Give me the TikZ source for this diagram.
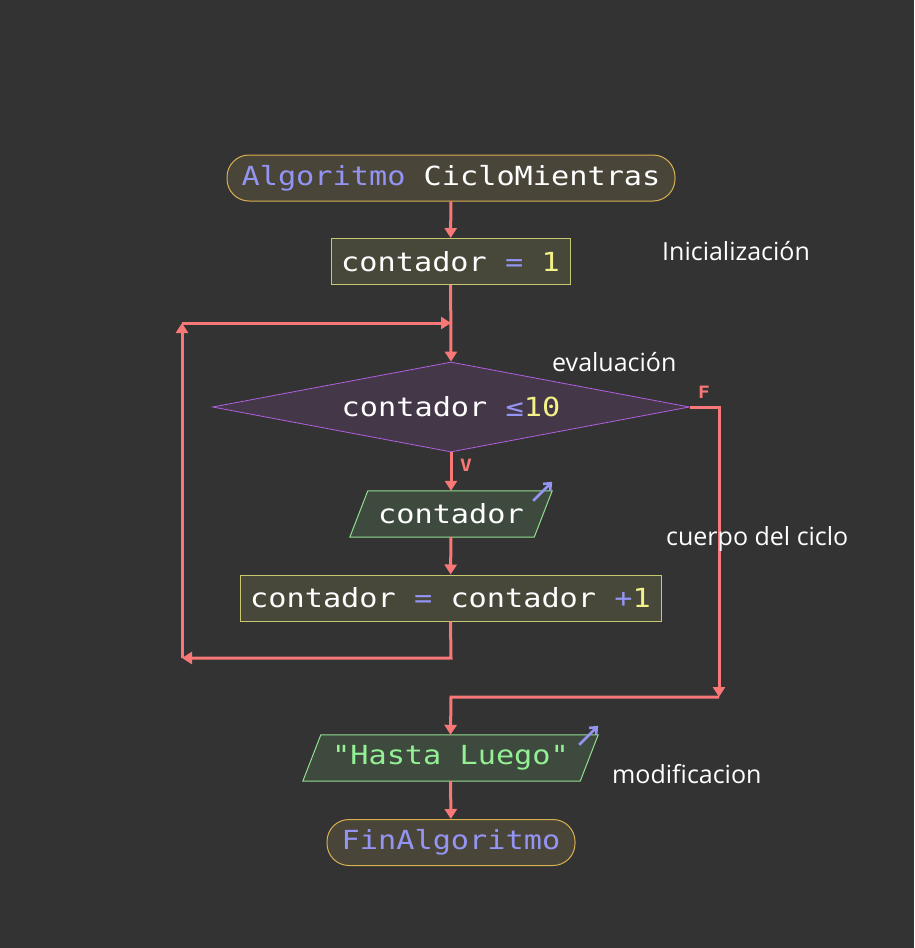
\documentclass[tikz,border=0pt]{standalone}
\usepackage{fontspec}
\setmainfont{Open Sans}
\newfontfamily\monof[FakeStretch=1.15]{DejaVu Sans Mono}
\usetikzlibrary{arrows.meta,shapes.geometric,calc}
\pgfdeclarelayer{canvas}
\pgfdeclarelayer{background}
\pgfsetlayers{canvas,background,main}
\definecolor{bg}{HTML}{333333}
\definecolor{arrowc}{HTML}{F87878}
\definecolor{kw}{HTML}{9494F4}
\definecolor{num}{HTML}{F2F288}
\definecolor{strc}{HTML}{94F094}
\definecolor{startfill}{HTML}{4A4539}
\definecolor{startdraw}{HTML}{D8B050}
\definecolor{boxfill}{HTML}{47473A}
\definecolor{boxdraw}{HTML}{C8C870}
\definecolor{diafill}{HTML}{443848}
\definecolor{diadraw}{HTML}{B060E0}
\definecolor{iofill}{HTML}{3E4A3E}
\definecolor{iodraw}{HTML}{90E090}
\begin{document}
\begin{tikzpicture}[x=1pt,y=-1pt,
  code/.style={font=\monof\fontsize{26.3}{30}\selectfont, text=white},
  term/.style={code, rectangle, rounded corners=22pt, fill=startfill, draw=startdraw, line width=1pt, inner sep=0pt, minimum height=46pt},
  procbox/.style={code, rectangle, fill=boxfill, draw=boxdraw, line width=1pt, inner sep=0pt, minimum height=46pt},
  decision/.style={code, diamond, aspect=5.3, fill=diafill, draw=diadraw, line width=0.8pt, inner sep=0pt, minimum width=477pt, minimum height=90pt},
  iobox/.style={code, rectangle, inner sep=0pt, minimum height=46pt},
  iopoly/.style={fill=iofill, draw=iodraw, line width=1pt},
  arr/.style={draw=arrowc, line width=3pt, -{Triangle[length=10pt,width=12pt]}},
  icon/.style={draw=kw, line width=2.5pt, -{Straight Barb[length=6pt,width=10pt]}},
  note/.style={font=\fontsize{25}{30}\selectfont, text=white, inner sep=0pt, anchor=west},
  flag/.style={font=\monof\bfseries\fontsize{17}{20}\selectfont, text=arrowc, inner sep=0pt}]
\begin{pgfonlayer}{canvas}
\fill[bg] (0,0) rectangle (914,948);
\end{pgfonlayer}
\useasboundingbox (0,0) rectangle (914,948);

\node[term, minimum width=448pt] (start) at (451,178) {\textcolor{kw}{Algoritmo} CicloMientras};
\node[procbox, minimum width=239pt] (b1) at (450.5,261.5) {contador \textcolor{kw}{=} \textcolor{num}{1}};
\coordinate (j1) at (451,323);
\node[decision] (d) at (451,407) {contador \textcolor{kw}{≤}\textcolor{num}{10}};
\node[iobox, minimum width=202pt] (p1) at (451,514) {contador};
\node[procbox, minimum width=421pt] (b2) at (450.5,598) {contador \textcolor{kw}{=} contador \textcolor{kw}{+}\textcolor{num}{1}};
\node[iobox, minimum width=295pt] (p2) at (450.5,758) {\textcolor{strc}{"Hasta Luego"}};
\node[term, minimum width=248pt] (fin) at (451,842.5) {\textcolor{kw}{FinAlgoritmo}};

\begin{pgfonlayer}{background}
\path[iopoly] (p1.south west) -- ($(p1.north west)+(18,0)$) -- (p1.north east) -- ($(p1.south east)+(-18,0)$) -- cycle;
\path[iopoly] (p2.south west) -- ($(p2.north west)+(18,0)$) -- (p2.north east) -- ($(p2.south east)+(-18,0)$) -- cycle;
\end{pgfonlayer}
\draw[icon] ($(p1.north east)+(-19,10)$) -- ($(p1.north east)+(0,-9)$);
\draw[icon] ($(p2.north east)+(-19,10)$) -- ($(p2.north east)+(0,-9)$);

\coordinate (c1) at (451,658);
\coordinate (c2) at (182,658);
\coordinate (c3) at (182,323);
\coordinate (c4) at (719,407);
\coordinate (c5) at (719,697);
\coordinate (c6) at (451,697);

\draw[arr] (start) -- (b1);
\draw[arr] (b1) -- (d.north);
\draw[arr] (d.south) -- (p1.north);
\draw[arr] (p1) -- (b2);
\draw[arr] (b2.south) -- (c1) -- (c2);
\draw[arr] (c2) -- (c3);
\draw[arr] (c3) -- (j1);
\draw[arr] (d.east) -- (c4) -- (c5);
\draw[arr] (c5) -- (c6) -- (p2.north);
\draw[arr] (p2) -- (fin);

\node[flag] (fl) at (704,392) {F};
\node[flag] (vl) at (466,465) {V};

\node[note] (n1) at (662,251) {Inicialización};
\node[note] (n2) at (552,362) {evaluación};
\node[note] (n3) at (666,539) {cuerpo del ciclo};
\node[note] (n4) at (612,774) {modificacion};
\end{tikzpicture}
\end{document}
